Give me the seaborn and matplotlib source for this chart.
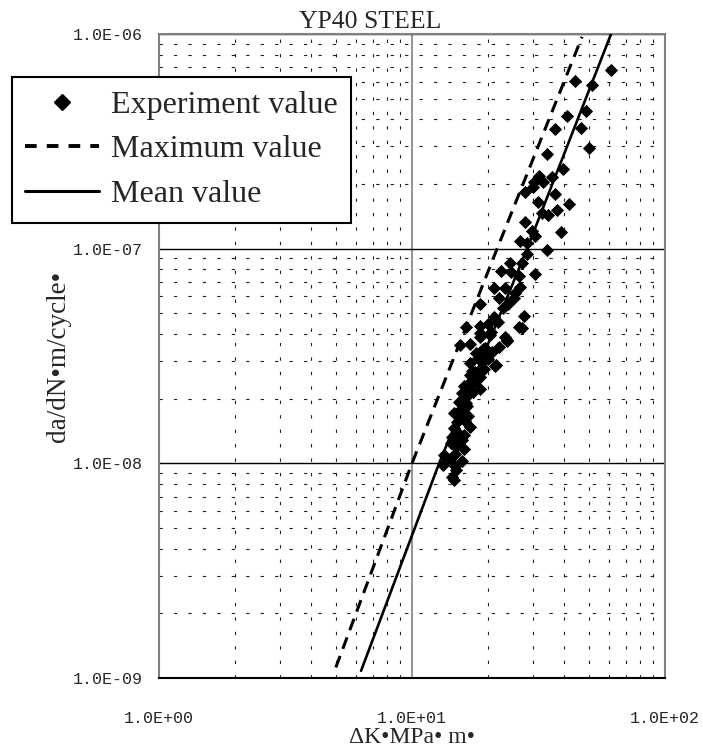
import numpy as np
import pandas as pd
import matplotlib
matplotlib.use("Agg")
import matplotlib.pyplot as plt
import seaborn as sns
from matplotlib.ticker import LogLocator, NullFormatter
from matplotlib.lines import Line2D

# ---------------- data ----------------
exp_dk = [61.0, 44.1, 51.3, 48.6, 40.9, 46.4, 36.7, 50.1, 34.3, 39.4,
          35.6, 31.8, 30.4, 33.0, 30.0, 28.0, 36.7, 31.4, 41.8, 37.5,
          32.5, 34.6, 28.0, 38.7, 29.7, 30.6, 26.7, 28.6, 34.1, 28.6,
          24.5, 27.1, 22.5, 24.6, 30.6, 26.6, 21.0, 23.3, 26.7, 22.1,
          25.4, 18.6, 22.9, 21.0, 27.7, 16.3, 18.5, 19.9, 26.6, 18.6,
          20.3, 23.3, 15.5, 16.9, 23.8, 18.6, 20.6, 17.9, 19.6, 21.5,
          16.9, 18.9, 16.9, 18.5, 17.5, 16.0, 18.5, 15.7, 16.7, 15.4,
          16.4, 14.6, 15.7, 16.7, 15.1, 16.2, 14.6, 16.9, 14.4, 15.7,
          14.6, 16.0, 14.8, 13.4, 14.1, 15.7, 13.3, 14.8, 14.9, 14.4,
          14.6, 27.1, 23.7, 21.3, 19.0, 20.0, 17.2, 18.0, 15.9, 16.5,
          17.0, 15.2, 15.5, 16.0, 17.4, 19.3, 20.8, 22.0, 15.0, 14.2,
          17.8, 18.2, 19.5, 21.8, 24.0, 25.5, 16.2, 15.3]
exp_dadn = [6.79e-7, 6.04e-7, 5.78e-7, 4.37e-7, 4.15e-7, 3.65e-7, 3.62e-7, 2.94e-7, 2.76e-7, 2.35e-7,
            2.16e-7, 2.18e-7, 2.05e-7, 2.05e-7, 1.94e-7, 1.84e-7, 1.80e-7, 1.65e-7, 1.61e-7, 1.51e-7,
            1.47e-7, 1.43e-7, 1.33e-7, 1.20e-7, 1.21e-7, 1.14e-7, 1.09e-7, 1.06e-7, 9.85e-8, 9.43e-8,
            8.60e-8, 8.53e-8, 7.87e-8, 7.80e-8, 7.62e-8, 7.45e-8, 6.53e-8, 6.53e-8, 6.61e-8, 5.86e-8,
            5.86e-8, 5.52e-8, 5.27e-8, 4.82e-8, 4.86e-8, 4.33e-8, 4.35e-8, 4.45e-8, 4.30e-8, 3.89e-8,
            3.96e-8, 3.89e-8, 3.56e-8, 3.60e-8, 3.73e-8, 4.05e-8, 4.10e-8, 3.25e-8, 3.19e-8, 2.87e-8,
            2.92e-8, 2.97e-8, 2.58e-8, 2.53e-8, 2.36e-8, 2.28e-8, 2.21e-8, 2.12e-8, 2.08e-8, 1.94e-8,
            1.92e-8, 1.71e-8, 1.74e-8, 1.66e-8, 1.56e-8, 1.58e-8, 1.46e-8, 1.48e-8, 1.33e-8, 1.28e-8,
            1.22e-8, 1.16e-8, 1.11e-8, 1.09e-8, 1.05e-8, 1.02e-8, 9.82e-9, 9.71e-9, 9.31e-9, 8.66e-9,
            8.36e-9, 4.29e-8, 3.74e-8, 2.84e-8, 3.40e-8, 3.05e-8, 2.70e-8, 2.45e-8, 2.00e-8, 1.85e-8,
            2.40e-8, 1.38e-8, 1.62e-8, 1.36e-8, 2.15e-8, 2.75e-8, 3.30e-8, 3.50e-8, 1.20e-8, 1.25e-8,
            2.65e-8, 3.10e-8, 3.45e-8, 4.55e-8, 5.50e-8, 6.20e-8, 1.88e-8, 1.75e-8]

max_dk = [5.0, 10.0, 21.7, 47.0]
max_dadn = [1.12e-9, 1.0e-8, 1.0e-7, 9.7e-7]

mean_dk = [6.29, 12.8, 28.5, 61.2]
mean_dadn = [1.08e-9, 1.0e-8, 1.0e-7, 1.0e-6]

x_ticks = [1.0, 10.0, 100.0]
x_tick_labels = ["1.0E+00", "1.0E+01", "1.0E+02"]
y_ticks = [1e-9, 1e-8, 1e-7, 1e-6]
y_tick_labels = ["1.0E-09", "1.0E-08", "1.0E-07", "1.0E-06"]

title = "YP40 STEEL"
x_label = "ΔK•MPa• m•"
y_label = "da/dN•m/cycle•"
legend_labels = ["Experiment value", "Maximum value", "Mean value"]

# ---------------- figure ----------------
sns.set_style("white")
plt.rcParams['font.family'] = ['Liberation Serif', 'DejaVu Serif']

fig = plt.figure(figsize=(7.03, 7.49), dpi=100)
ax = fig.add_axes([159/703, 1 - 678/749, (665-159)/703, (678-34)/749])

df_exp = pd.DataFrame({"dk": exp_dk, "dadn": exp_dadn})
df_max = pd.DataFrame({"dk": max_dk, "dadn": max_dadn})
df_mean = pd.DataFrame({"dk": mean_dk, "dadn": mean_dadn})

ax.set_xscale("log")
ax.set_yscale("log")
ax.set_xlim(1, 100)
ax.set_ylim(1e-9, 1e-6)

# grid
ax.xaxis.set_minor_locator(LogLocator(base=10, subs=np.arange(2, 10)))
ax.yaxis.set_minor_locator(LogLocator(base=10, subs=np.arange(2, 10)))
ax.xaxis.set_minor_formatter(NullFormatter())
ax.yaxis.set_minor_formatter(NullFormatter())
ax.grid(which="major", axis="x", color="#808080", linewidth=1.2, linestyle="-")
ax.grid(which="major", axis="y", color="black", linewidth=1.0, linestyle="-")
ax.grid(which="minor", axis="both", color="#222222", linewidth=0.8, linestyle=(0, (3, 10)))
ax.set_axisbelow(True)

sns.scatterplot(data=df_exp, x="dk", y="dadn", ax=ax, marker="D", s=45,
                color="black", edgecolor="black", linewidth=0, zorder=3, legend=False)
sns.lineplot(data=df_max, x="dk", y="dadn", ax=ax, color="black", linewidth=2.2,
             estimator=None, sort=False, zorder=4)
ax.lines[-1].set_dashes((4, 2.5))
sns.lineplot(data=df_mean, x="dk", y="dadn", ax=ax, color="black", linewidth=1.9,
             estimator=None, sort=False, zorder=4)

ax.set_xticks(x_ticks)
ax.set_xticklabels(x_tick_labels)
ax.set_yticks(y_ticks)
ax.set_yticklabels(y_tick_labels)
ax.tick_params(axis="both", which="both", length=0)
ax.tick_params(axis="x", pad=24)
ax.tick_params(axis="y", pad=12)
for lab in ax.get_xticklabels() + ax.get_yticklabels():
    lab.set_fontfamily("Liberation Mono")
    lab.set_fontsize(12)

for s in ax.spines.values():
    s.set_color("#808080")
    s.set_linewidth(1.5)
ax.spines["bottom"].set_color("black")

ax.set_xlabel(x_label, fontsize=17)
ax.xaxis.label.set_verticalalignment("baseline")
ax.xaxis.set_label_coords(0.5, -(743 - 678) / 644)
ax.set_ylabel(y_label, fontsize=19.5, labelpad=1)

fig.text(370/703, 1 - 28/749, title, fontsize=18.5, ha="center", va="baseline")

handles = [
    Line2D([], [], color="black", marker="D", linestyle="none", markersize=8),
    Line2D([], [], color="black", linewidth=2.8, dashes=(3, 2.6)),
    Line2D([], [], color="black", linewidth=2.2),
]
leg = fig.legend(handles, legend_labels, loc="upper left",
                 bbox_to_anchor=(12/703, 1 - 77/749), bbox_transform=fig.transFigure,
                 fontsize=23, frameon=True, fancybox=False, framealpha=1,
                 handlelength=2.3, handletextpad=0.38, labelspacing=0.48,
                 borderpad=0.42, borderaxespad=0)
leg.get_frame().set_edgecolor("black")
leg.get_frame().set_linewidth(1.5)

fig.savefig("out.png", dpi=100)
